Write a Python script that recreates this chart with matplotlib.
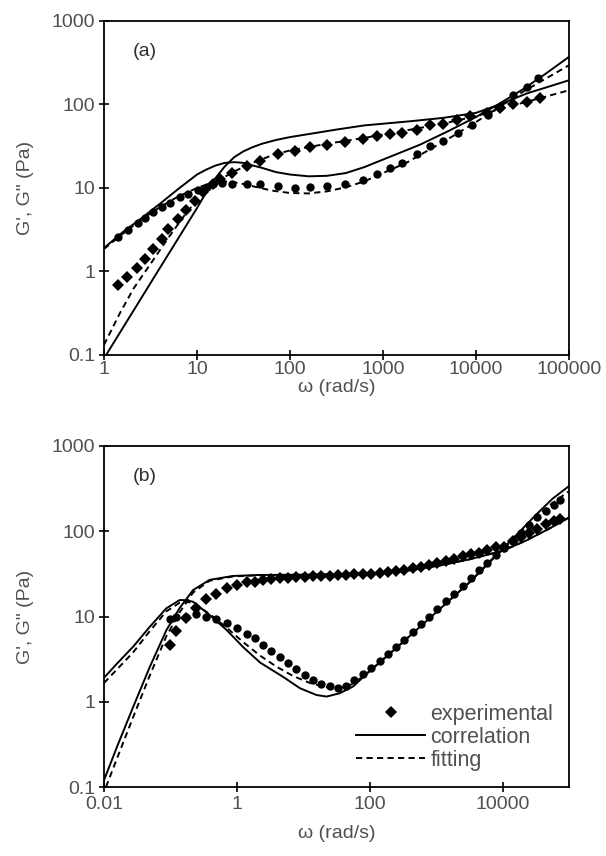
import numpy as np
import matplotlib
matplotlib.use("Agg")
import matplotlib.pyplot as plt
from matplotlib.lines import Line2D
from matplotlib.ticker import FixedLocator, FuncFormatter, NullLocator

plt.rcParams['font.family'] = ['Liberation Sans', 'DejaVu Sans']
plt.rcParams['font.size'] = 14

TXT = '#505050'

# ---------------- panel (a) ----------------
# experimental G'' (circles)
a_w_gpp = [1.43, 1.82, 2.34, 2.76, 3.39, 4.17, 5.1, 6.6, 8.1, 10.3,
           12.7, 15, 18.4, 23.6, 34.2, 47.5, 74.8, 113, 164, 248,
           390, 614, 855, 1189, 1585, 2300, 3200, 4460, 6460, 8980,
           13580, 18100, 25200, 35100, 46800]
a_gpp_exp = [2.58, 3.1, 3.8, 4.4, 5.1, 6.0, 6.7, 7.7, 8.4, 9.4,
             10.3, 11.1, 11.6, 11.1, 11.1, 11.1, 10.6, 10.1, 10.3, 10.6,
             11.3, 12.4, 14.6, 17.5, 20.1, 25.2, 31.7, 36.3, 45.6, 57.2,
             75, 94.6, 130, 163, 205]
# experimental G' (diamonds)
a_w_gp = [1.43, 1.78, 2.24, 2.76, 3.39, 4.17, 4.92, 6.3, 7.7, 9.5,
          11.7, 15, 17.7, 23.6, 34.2, 47.5, 74.8, 113, 164, 248,
          390, 614, 855, 1189, 1585, 2300, 3200, 4460, 6200, 8620,
          13000, 18100, 25200, 35100, 48800]
a_gp_exp = [0.69, 0.87, 1.09, 1.43, 1.85, 2.45, 3.2, 4.3, 5.4, 7.0,
            8.9, 11.3, 12.7, 15.3, 18.3, 21, 25.2, 28.1, 30.8, 33.1,
            35.6, 39, 41.7, 44.4, 45.6, 49.9, 56.2, 58.3, 65.7, 72,
            78.8, 90.2, 100.7, 106, 118.6]

# correlation (solid)
a_w_corr_gpp = [1, 1.585, 2.512, 3.981, 6.31, 10, 12.59, 15.85, 19.95, 25.12, 31.62, 39.81,
                50.12, 70.79, 100, 158.5, 251.2, 398.1, 631, 1000, 1585, 2512, 5012, 10000,
                17783, 31623, 56234, 100000]
a_corr_gpp = [1.91, 2.95, 4.32, 6.46, 9.77, 14.5, 16.6, 18.6, 20.0, 20.4, 20.0, 18.6,
              17.4, 15.5, 14.5, 13.8, 14.0, 15.1, 17.8, 21.9, 26.9, 33.1, 47.9, 70.8,
              102, 151, 234, 372]
a_w_corr_gp = [1, 1.585, 2.512, 3.981, 6.31, 7.943, 10, 12.59, 15.85, 19.95, 25.12, 31.62,
               39.81, 50.12, 70.79, 100, 316.2, 631, 1995, 4467, 10000, 16600, 35480, 100000]
a_corr_gp = [0.091, 0.209, 0.479, 1.10, 2.51, 3.80, 5.75, 8.91, 13.2, 18.2, 23.4, 27.5,
             30.9, 33.9, 37.6, 40.7, 50.1, 56.2, 63.1, 69.2, 79.4, 97.0, 136, 195]

# fitting (dashed)
a_w_fit_gpp = [1, 1.585, 2.512, 3.981, 6.31, 10, 14.13, 19.95, 28.18, 39.81, 63.1, 100,
               158.5, 251.2, 398.1, 631, 1000, 1778, 3162, 5623, 10000, 17783, 31623,
               56234, 100000]
a_fit_gpp = [1.86, 2.82, 4.17, 5.89, 7.94, 10.0, 11.5, 12.0, 11.5, 10.5, 9.33, 8.71,
             8.61, 9.12, 10.2, 12.0, 15.1, 20.0, 28.8, 41.7, 61.7, 93.3, 141,
             204, 295]
a_w_fit_gp = [1, 1.48, 2.09, 3.16, 4.68, 7.08, 10.7, 12.6, 15.8, 25.1, 39.8, 63.1, 100, 251,
              631, 1585, 3981, 10000, 19953, 39811, 100000]
a_fit_gp = [0.132, 0.316, 0.631, 1.23, 2.34, 4.47, 7.94, 9.55, 11.7, 15.8, 20.0, 24.5, 28.2,
            33.9, 39.8, 47.9, 57.5, 72.4, 91.2, 112, 148]

# ---------------- panel (b) ----------------
b_w_exp = [0.1, 0.123, 0.174, 0.245, 0.347, 0.49, 0.70, 0.99, 1.40, 1.87,
           2.49, 3.32, 4.43, 5.90, 7.87, 10.5, 14.1, 18.6, 25.1, 33.1,
           44.7, 58.9, 79.4, 105, 141, 186, 251, 331, 447, 589,
           794, 1047, 1413, 1862, 2512, 3311, 4467, 5888, 7943, 10470,
           14130, 18620, 25120, 33110, 44670, 58880, 74130]
b_gpp_exp = [9.27, 9.77, 10.0, 10.6, 10.0, 9.27, 8.32, 7.26, 6.31, 5.55,
             4.68, 3.89, 3.31, 2.82, 2.40, 2.04, 1.82, 1.62, 1.51, 1.46,
             1.55, 1.78, 2.14, 2.51, 3.02, 3.63, 4.37, 5.37, 6.61, 8.13,
             10.0, 12.3, 15.1, 18.6, 22.9, 28.2, 34.7, 42.7, 52.5, 63.1,
             77.6, 95.5, 117, 145, 174, 204, 234]
b_gp_exp = [4.6, 6.8, 9.5, 12.6, 16.2, 18.6, 21.4, 23.4, 25.1, 25.7,
            26.9, 27.5, 28.2, 28.5, 28.8, 29.2, 29.5, 29.9, 30.2, 30.5,
            30.9, 31.3, 31.6, 31.6, 32.4, 33.1, 34.3, 35.5, 36.7, 38.0,
            39.8, 42.2, 44.7, 47.3, 51.3, 53.7, 56.2, 60.3, 64.6, 66.1,
            75.9, 85.1, 95.5, 107, 120, 132, 141]

b_w_corr_gpp = [0.01, 0.0158, 0.0275, 0.049, 0.087, 0.138, 0.174, 0.219, 0.389, 0.70, 1.245,
                2.24, 5.01, 8.91, 15.8, 22.4, 35.5, 56.2, 100, 316, 1000, 3162, 7943, 15849,
                31623, 56234, 100000]
b_corr_gpp = [1.91, 2.82, 4.43, 7.59, 12.5, 15.6, 15.5, 14.9, 10.4, 6.95, 4.37,
              2.88, 1.95, 1.44, 1.20, 1.15, 1.26, 1.51, 2.29, 5.01, 11.2, 25.1, 52.5, 89.1,
              155, 240, 339]
b_w_fit_gpp = [0.01, 0.0275, 0.049, 0.087, 0.138, 0.174, 0.219, 0.389, 0.70, 1.245, 2.24,
               3.98, 7.08, 12.6, 22.4, 35.5, 56.2, 100, 316, 1000, 3162, 7943, 15849, 31623,
               56234, 100000]
b_fit_gpp = [1.66, 3.80, 6.76, 11.5, 14.5, 14.8, 14.5, 10.7, 7.41, 5.01, 3.47,
             2.57, 2.00, 1.66, 1.48, 1.45, 1.62, 2.29, 5.01, 11.2, 25.1, 51.3, 85.1, 145,
             214, 295]
b_w_corr_gp = [0.01, 0.0158, 0.0275, 0.049, 0.087, 0.138, 0.219, 0.389, 0.871, 2.24, 10,
               31.6, 100, 316, 1000, 3162, 10000, 22387, 50119, 100000]
b_corr_gp = [0.12, 0.30, 0.87, 2.57, 6.92, 12.6, 20.4, 26.9, 29.9, 30.7, 30.9,
             31.3, 32.0, 33.9, 38.9, 46.8, 58.9, 77.6, 107, 145]
b_w_fit_gp = [0.0107, 0.0158, 0.0275, 0.049, 0.087, 0.138, 0.219, 0.389, 0.871, 2.24, 10,
              31.6, 100, 316, 1000, 3162, 10000, 22387, 50119, 100000]
b_fit_gp = [0.10, 0.219, 0.661, 2.04, 5.89, 11.2, 19.1, 26.3, 29.5, 30.5, 30.9,
            31.3, 32.0, 33.9, 38.9, 46.8, 58.9, 77.6, 107, 145]

y_ticks = [0.1, 1, 10, 100, 1000]
a_x_ticks = [1, 10, 100, 1000, 10000, 100000]
b_x_ticks = [0.01, 1, 100, 10000]


def fmt(v, _):
    return f'{v:g}' if v < 1 else f'{v:.0f}'


def style_axes(ax, xticks, xlim, tag, xlab_y, xpad):
    ax.set_xscale('log')
    ax.set_yscale('log')
    ax.set_xlim(*xlim)
    ax.set_ylim(0.1, 1000)
    ax.xaxis.set_major_locator(FixedLocator(xticks))
    ax.yaxis.set_major_locator(FixedLocator(y_ticks))
    ax.xaxis.set_minor_locator(NullLocator())
    ax.yaxis.set_minor_locator(NullLocator())
    ax.xaxis.set_major_formatter(FuncFormatter(fmt))
    ax.yaxis.set_major_formatter(FuncFormatter(fmt))
    ax.tick_params(direction='inout', length=7, width=1.2, labelsize=14, pad=3,
                   color='black', labelcolor=TXT)
    ax.tick_params(axis='x', pad=xpad)
    for s in ax.spines.values():
        s.set_linewidth(1.3)
    ax.set_xlabel('ω (rad/s)', fontsize=14, color=TXT, va='center')
    ax.xaxis.set_label_coords(0.5, xlab_y)
    ax.set_ylabel('G\', G" (Pa)', fontsize=14, color=TXT, va='center')
    ax.yaxis.set_label_coords(-0.168, 0.5)
    ax.text(0.088, 0.91, tag, transform=ax.transAxes, fontsize=14, ha='center',
            va='center', color='#303030')


fig = plt.figure(figsize=(6.06, 8.56), dpi=100)
ax1 = fig.add_axes([104 / 606, 1 - 355 / 856, 465 / 606, 334 / 856])
ax2 = fig.add_axes([104 / 606, 1 - 787 / 856, 465 / 606, 341 / 856])

lw = 1.4
mk = dict(color='black', linestyle='none', markeredgewidth=0)
dash = (0, (3.2, 2.2))

# panel (a)
ax1.plot(a_w_corr_gpp, a_corr_gpp, color='black', lw=lw)
ax1.plot(a_w_corr_gp, a_corr_gp, color='black', lw=lw)
ax1.plot(a_w_fit_gpp, a_fit_gpp, color='black', lw=lw, linestyle=dash)
ax1.plot(a_w_fit_gp, a_fit_gp, color='black', lw=lw, linestyle=dash)
ax1.plot(a_w_gpp, a_gpp_exp, marker='o', markersize=6, **mk)
ax1.plot(a_w_gp, a_gp_exp, marker='D', markersize=6, **mk)
style_axes(ax1, a_x_ticks, (1, 100000), '(a)', -0.098, 1)

# panel (b)
ax2.plot(b_w_corr_gpp, b_corr_gpp, color='black', lw=lw)
ax2.plot(b_w_corr_gp, b_corr_gp, color='black', lw=lw)
ax2.plot(b_w_fit_gpp, b_fit_gpp, color='black', lw=lw, linestyle=dash)
ax2.plot(b_w_fit_gp, b_fit_gp, color='black', lw=lw, linestyle=dash)
ax2.plot(b_w_exp, b_gpp_exp, marker='o', markersize=6, **mk)
ax2.plot(b_w_exp, b_gp_exp, marker='D', markersize=6, **mk)
style_axes(ax2, b_x_ticks, (0.01, 100000), '(b)', -0.135, 3)

handles = [Line2D([], [], marker='D', markersize=6, **mk),
           Line2D([], [], color='black', lw=lw),
           Line2D([], [], color='black', lw=lw, linestyle=dash)]
leg = ax2.legend(handles, ['experimental', 'correlation', 'fitting'], loc='lower right',
                 bbox_to_anchor=(0.985, 0.022), frameon=False, fontsize=15.5,
                 handlelength=3.2, handletextpad=0.25, labelspacing=0.1, borderaxespad=0)
for t in leg.get_texts():
    t.set_color(TXT)

fig.savefig('out.png', dpi=100, facecolor='white')
